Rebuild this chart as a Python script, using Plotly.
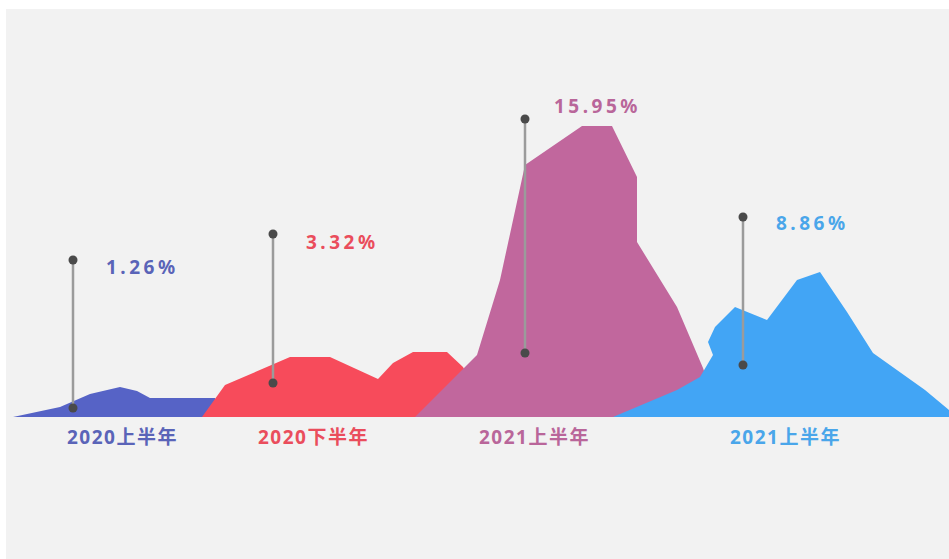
import plotly.graph_objects as go

# Periods and their growth rates
periods = ["2020上半年", "2020下半年", "2021上半年", "2021上半年"]
rates = ["1.26%", "3.32%", "15.95%", "8.86%"]
colors = ["#5663c6", "#f74b5b", "#c1679d", "#42a5f5"]
text_colors = ["#5a64b8", "#ea4d5c", "#b9669a", "#4aa6ea"]

# Mountain outlines: horizontal position and height above the baseline
area1_x = [13, 60, 90, 120, 137, 150, 215, 222]
area1_h = [0, 10, 23, 30, 26, 19, 19, 0]
area2_x = [202, 225, 290, 330, 378, 393, 413, 447, 463, 490]
area2_h = [0, 32, 60, 60, 38, 54, 65, 65, 50, 0]
area3_x = [415, 477, 500, 525, 582, 612, 637, 637, 677, 703, 720]
area3_h = [0, 62, 137, 252, 291, 291, 240, 175, 110, 49, 0]
area4_x = [613, 677, 700, 713, 708, 715, 735, 767, 797, 820, 847, 873, 925, 949, 949]
area4_h = [0, 27, 40, 62, 75, 90, 110, 97, 137, 145, 105, 64, 27, 7, 0]

# Pin markers for each period
pin_x = [73, 273, 525, 743]
pin_top = [157, 183, 298, 200]
pin_bottom = [9, 34, 64, 52]

# Label placement
rate_x = [142, 342, 597, 812]
rate_y = [150, 175, 311, 194]
period_x = [122, 313, 534, 785]
period_y = -20

fig = go.Figure()

areas = [(area1_x, area1_h), (area2_x, area2_h), (area3_x, area3_h), (area4_x, area4_h)]
for (xs, hs), c in zip(areas, colors):
    fig.add_trace(go.Scatter(
        x=xs, y=hs, mode="lines", fill="tozeroy", fillcolor=c,
        line=dict(width=0, color=c), hoverinfo="skip", showlegend=False,
    ))

for x, t, b in zip(pin_x, pin_top, pin_bottom):
    fig.add_trace(go.Scatter(
        x=[x, x], y=[b, t], mode="lines",
        line=dict(color="#9b9b9b", width=2.5), hoverinfo="skip", showlegend=False,
    ))
    fig.add_trace(go.Scatter(
        x=[x, x], y=[b, t], mode="markers",
        marker=dict(color="#4a4a4a", size=9), hoverinfo="skip", showlegend=False,
    ))

font_family = "Noto Sans, Noto Sans CJK SC, sans-serif"
for x, y, t, c in zip(rate_x, rate_y, rates, text_colors):
    fig.add_annotation(
        x=x, y=y, text=f'<span style="letter-spacing:3.5px"><b>{t}</b></span>',
        showarrow=False, xanchor="center", yanchor="middle",
        font=dict(family=font_family, size=19, color=c),
    )

for x, t, c in zip(period_x, periods, text_colors):
    fig.add_annotation(
        x=x, y=period_y, text=f'<span style="letter-spacing:1.5px"><b>{t}</b></span>',
        showarrow=False, xanchor="center", yanchor="middle",
        font=dict(family=font_family, size=19, color=c),
    )

fig.update_layout(
    width=949, height=559,
    margin=dict(l=6, r=0, t=9, b=0),
    paper_bgcolor="#ffffff",
    plot_bgcolor="#f2f2f2",
    xaxis=dict(range=[6, 949], visible=False, fixedrange=True),
    yaxis=dict(range=[-142, 408], visible=False, fixedrange=True),
    showlegend=False,
)

fig.write_html("out.html")
